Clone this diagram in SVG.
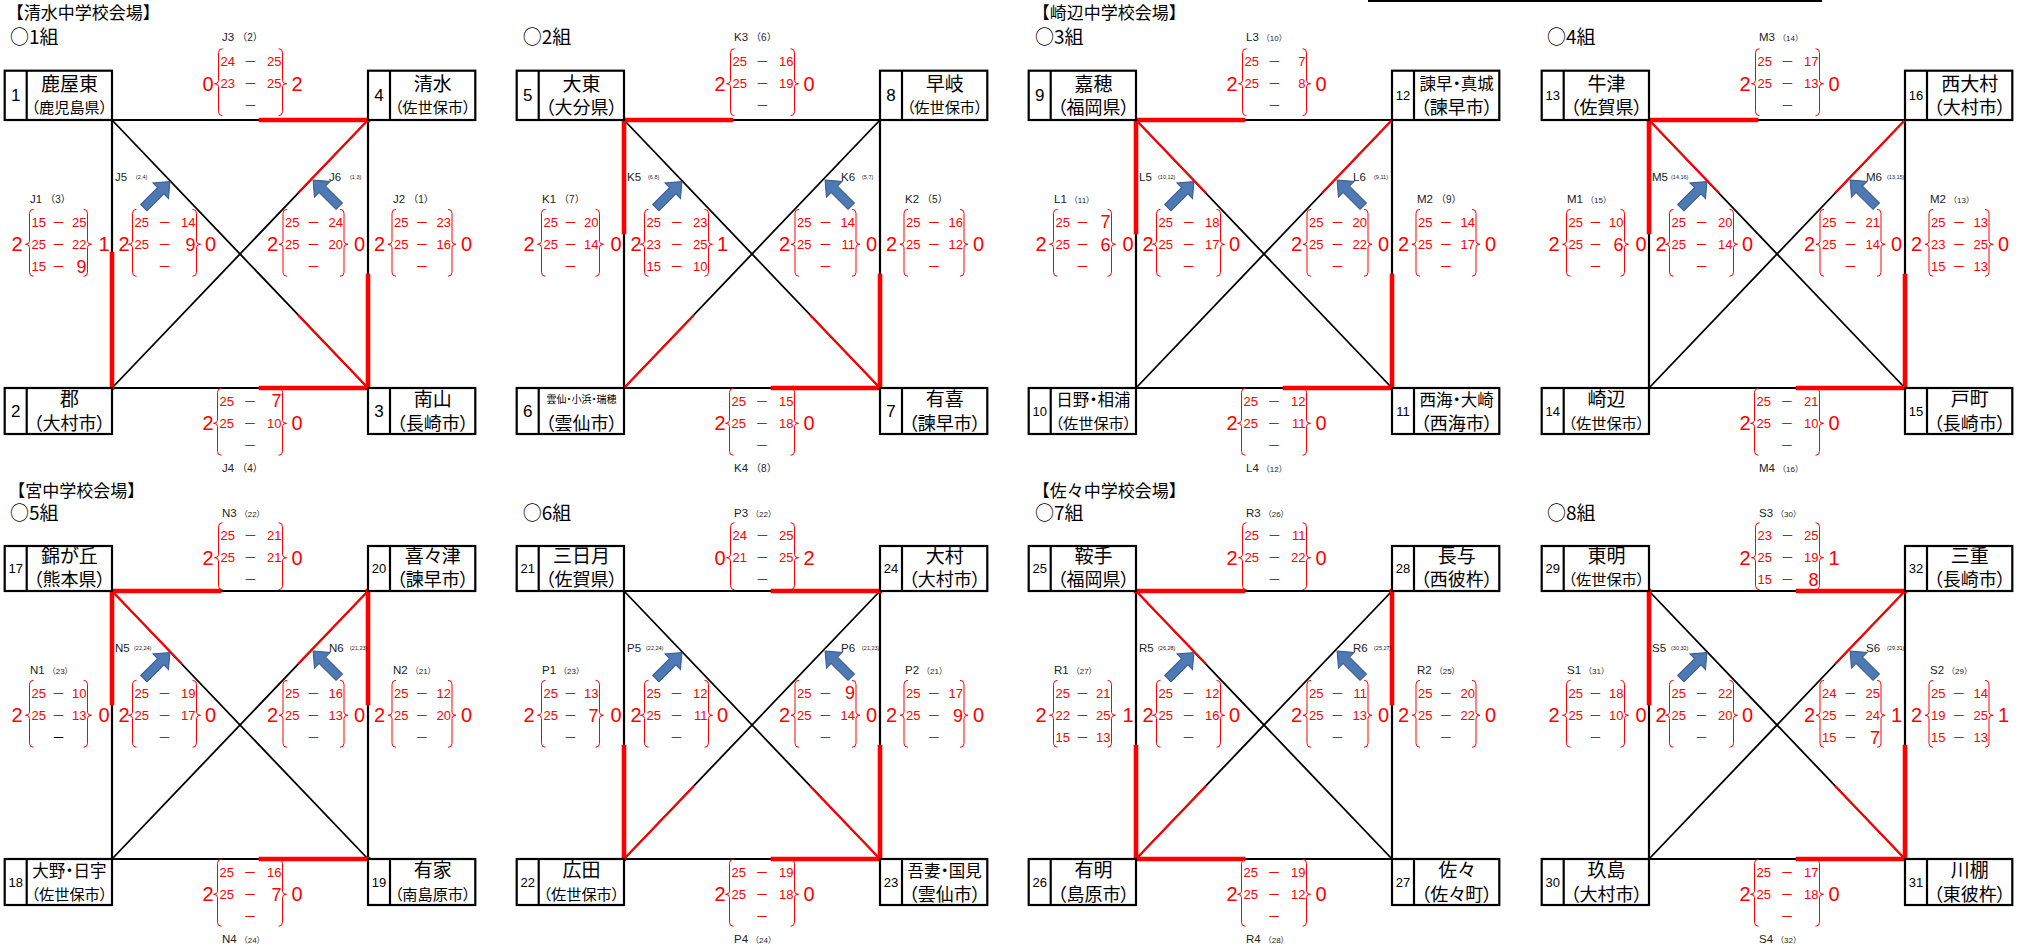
<svg xmlns="http://www.w3.org/2000/svg" width="2021" height="949" viewBox="0 0 2021 949">
<defs>
<style>
text{font-family:"Liberation Sans","Noto Sans CJK JP",sans-serif}
.k{fill:none;stroke:#000;stroke-width:2.2}
.kd{fill:none;stroke:#000;stroke-width:1.8}
.rt{fill:none;stroke:#f00;stroke-width:4.6;stroke-linecap:square}
.rd{fill:none;stroke:#f00;stroke-width:2.2}
.bx{fill:#fff;stroke:#000;stroke-width:2.2}
.br{fill:none;stroke:#f00;stroke-width:1}
.ar{fill:#4d79b4;stroke:#38598a;stroke-width:1}
.s{font-size:13px;fill:#f00}
.b{font-size:18px}
.w{font-size:20px;fill:#f00}
.e{text-anchor:end}
.q{font-family:"Noto Sans CJK JP",sans-serif;text-anchor:middle}
.lb{font-size:11.5px;fill:#222}
.lp{font-size:10px}
.lq{font-size:8px}
.tn{font-size:5.5px;fill:#222}
.jp{font-family:"Noto Sans CJK JP",sans-serif;font-feature-settings:"palt";text-anchor:middle;fill:#000}
.hd{font-family:"Noto Sans CJK JP",sans-serif;font-size:17px}
.gl{font-family:"Noto Sans CJK JP",sans-serif;font-size:19px}
.n1{font-size:17px;text-anchor:middle}
.n2{font-size:13px;text-anchor:middle}
.f19{font-size:19px}.f17{font-size:16.5px}.f10{font-size:10px}.p18{font-size:18px}.p15{font-size:15.2px}
</style>
<path id="bL" d="M4,-35Q0,-35 0,-31V-3Q0,0 -4,0Q0,0 0,3V28Q0,32 4,32"/>
<path id="bR" d="M-4,-35Q0,-35 0,-31V-3Q0,0 4,0Q0,0 0,3V28Q0,32 -4,32"/>
<path id="ar" d="M0,-19L11,-6H4.5V18H-4.5V-6H-11Z"/>
<g id="sq"><path class="k" d="M0,0H256V268H0Z"/><path class="kd" d="M0,0L256,268M256,0L0,268"/></g>
</defs>
<rect width="2021" height="949" fill="#fff"/>
<rect x="1368" y="0" width="454" height="2" fill="#000"/>

<g id="headers">
<text class="hd" x="6.7" y="18.5">【清水中学校会場】</text>
<text class="hd" x="1032.7" y="18.5">【崎辺中学校会場】</text>
<text class="hd" x="8.3" y="496.5">【宮中学校会場】</text>
<text class="hd" x="1032.7" y="496.5">【佐々中学校会場】</text>
<text class="gl" x="10" y="44">○1組</text>
<text class="gl" x="522.7" y="44">○2組</text>
<text class="gl" x="1035" y="44">○3組</text>
<text class="gl" x="1547" y="44">○4組</text>
<text class="gl" x="10" y="520">○5組</text>
<text class="gl" x="522.7" y="520">○6組</text>
<text class="gl" x="1035" y="520">○7組</text>
<text class="gl" x="1547" y="520">○8組</text>
</g>

<g id="connectors">
<g transform="translate(112,120)"><use href="#sq"/><path class="rt" d="M149,0H256M149,268H256M0,134V268M256,156V268"/><path class="rd" d="M186,195L256,268M256,0L186,73"/></g>
<g transform="translate(624,120)"><use href="#sq"/><path class="rt" d="M0,0H107M149,268H256M0,0V112M256,156V268"/><path class="rd" d="M186,195L256,268M0,268L70,195"/></g>
<g transform="translate(1136,120)"><use href="#sq"/><path class="rt" d="M0,0H107M149,268H256M0,0V112M256,156V268"/><path class="rd" d="M0,0L70,73M256,0L186,73"/></g>
<g transform="translate(1649,120)"><use href="#sq"/><path class="rt" d="M0,0H107M149,268H256M0,0V112M256,156V268"/><path class="rd" d="M0,0L70,73M256,0L186,73"/></g>
<g transform="translate(112,591)"><use href="#sq"/><path class="rt" d="M0,0H107M149,268H256M0,0V112M256,0V112"/><path class="rd" d="M0,0L70,73M256,0L186,73"/></g>
<g transform="translate(624,591)"><use href="#sq"/><path class="rt" d="M149,0H256M149,268H256M0,156V268M256,156V268"/><path class="rd" d="M186,195L256,268M0,268L70,195"/></g>
<g transform="translate(1136,591)"><use href="#sq"/><path class="rt" d="M0,0H107M0,268H107M0,156V268M256,0V112"/><path class="rd" d="M0,0L70,73M0,268L70,195"/></g>
<g transform="translate(1649,591)"><use href="#sq"/><path class="rt" d="M149,0H256M149,268H256M0,0V112M256,156V268"/><path class="rd" d="M186,195L256,268M256,0L186,73"/></g>
</g>

<!-- Teams row 1 -->
<g id="team1" transform="translate(4.7,70.7)"><rect class="bx" width="107.3" height="49.3"/><path class="k" d="M22,0V49.3"/><text class="n1" x="11" y="30.7">1</text><text class="jp f19" x="64.7" y="19.8">鹿屋東</text><text class="jp p15" x="64.7" y="41.9">（鹿児島県）</text></g>
<g id="team4" transform="translate(368,70.7)"><rect class="bx" width="107.3" height="49.3"/><path class="k" d="M22,0V49.3"/><text class="n1" x="11" y="30.7">4</text><text class="jp f19" x="64.7" y="19.8">清水</text><text class="jp p15" x="64.7" y="41.9">（佐世保市）</text></g>
<g id="team2" transform="translate(4.7,388)"><rect class="bx" width="107.3" height="46"/><path class="k" d="M22,0V46"/><text class="n1" x="11" y="29.1">2</text><text class="jp f19" x="64.7" y="18.4">郡</text><text class="jp p18" x="64.7" y="41.6">（大村市）</text></g>
<g id="team3" transform="translate(368,388)"><rect class="bx" width="107.3" height="46"/><path class="k" d="M22,0V46"/><text class="n1" x="11" y="29.1">3</text><text class="jp f19" x="64.7" y="18.4">南山</text><text class="jp p18" x="64.7" y="41.6">（長崎市）</text></g>

<g id="team5" transform="translate(516.7,70.7)"><rect class="bx" width="107.3" height="49.3"/><path class="k" d="M22,0V49.3"/><text class="n1" x="11" y="30.7">5</text><text class="jp f19" x="64.7" y="19.8">大東</text><text class="jp p18" x="64.7" y="43">（大分県）</text></g>
<g id="team8" transform="translate(880,70.7)"><rect class="bx" width="107.3" height="49.3"/><path class="k" d="M22,0V49.3"/><text class="n1" x="11" y="30.7">8</text><text class="jp f19" x="64.7" y="19.8">早岐</text><text class="jp p15" x="64.7" y="41.9">（佐世保市）</text></g>
<g id="team6" transform="translate(516.7,388)"><rect class="bx" width="107.3" height="46"/><path class="k" d="M22,0V46"/><text class="n1" x="11" y="29.1">6</text><text class="jp f10" x="64.7" y="14.8">雲仙・小浜・瑞穂</text><text class="jp p18" x="64.7" y="41.6">（雲仙市）</text></g>
<g id="team7" transform="translate(880,388)"><rect class="bx" width="107.3" height="46"/><path class="k" d="M22,0V46"/><text class="n1" x="11" y="29.1">7</text><text class="jp f19" x="64.7" y="18.4">有喜</text><text class="jp p18" x="64.7" y="41.6">（諫早市）</text></g>

<g id="team9" transform="translate(1028.7,70.7)"><rect class="bx" width="107.3" height="49.3"/><path class="k" d="M22,0V49.3"/><text class="n1" x="11" y="30.7">9</text><text class="jp f19" x="64.7" y="19.8">嘉穂</text><text class="jp p18" x="64.7" y="43">（福岡県）</text></g>
<g id="team12" transform="translate(1392,70.7)"><rect class="bx" width="107.3" height="49.3"/><path class="k" d="M22,0V49.3"/><text class="n2" x="11" y="29.3">12</text><text class="jp f17" x="64.7" y="19.2">諫早・真城</text><text class="jp p18" x="64.7" y="43">（諫早市）</text></g>
<g id="team10" transform="translate(1028.7,388)"><rect class="bx" width="107.3" height="46"/><path class="k" d="M22,0V46"/><text class="n2" x="11" y="27.7">10</text><text class="jp f17" x="64.7" y="18">日野・相浦</text><text class="jp p15" x="64.7" y="40.6">（佐世保市）</text></g>
<g id="team11" transform="translate(1392,388)"><rect class="bx" width="107.3" height="46"/><path class="k" d="M22,0V46"/><text class="n2" x="11" y="27.7">11</text><text class="jp f17" x="64.7" y="18">西海・大崎</text><text class="jp p18" x="64.7" y="41.6">（西海市）</text></g>

<g id="team13" transform="translate(1541.7,70.7)"><rect class="bx" width="107.3" height="49.3"/><path class="k" d="M22,0V49.3"/><text class="n2" x="11" y="29.3">13</text><text class="jp f19" x="64.7" y="19.8">牛津</text><text class="jp p18" x="64.7" y="43">（佐賀県）</text></g>
<g id="team16" transform="translate(1905,70.7)"><rect class="bx" width="107.3" height="49.3"/><path class="k" d="M22,0V49.3"/><text class="n2" x="11" y="29.3">16</text><text class="jp f19" x="64.7" y="19.8">西大村</text><text class="jp p18" x="64.7" y="43">（大村市）</text></g>
<g id="team14" transform="translate(1541.7,388)"><rect class="bx" width="107.3" height="46"/><path class="k" d="M22,0V46"/><text class="n2" x="11" y="27.7">14</text><text class="jp f19" x="64.7" y="18.4">崎辺</text><text class="jp p15" x="64.7" y="40.6">（佐世保市）</text></g>
<g id="team15" transform="translate(1905,388)"><rect class="bx" width="107.3" height="46"/><path class="k" d="M22,0V46"/><text class="n2" x="11" y="27.7">15</text><text class="jp f19" x="64.7" y="18.4">戸町</text><text class="jp p18" x="64.7" y="41.6">（長崎市）</text></g>

<!-- Teams row 2 -->
<g id="team17" transform="translate(4.7,546)"><rect class="bx" width="107.3" height="45"/><path class="k" d="M22,0V45"/><text class="n2" x="11" y="27.2">17</text><text class="jp f19" x="64.7" y="17.3">錦が丘</text><text class="jp p18" x="64.7" y="40.2">（熊本県）</text></g>
<g id="team20" transform="translate(368,546)"><rect class="bx" width="107.3" height="45"/><path class="k" d="M22,0V45"/><text class="n2" x="11" y="27.2">20</text><text class="jp f19" x="64.7" y="17.3">喜々津</text><text class="jp p18" x="64.7" y="40.2">（諫早市）</text></g>
<g id="team18" transform="translate(4.7,859)"><rect class="bx" width="107.3" height="46"/><path class="k" d="M22,0V46"/><text class="n2" x="11" y="27.7">18</text><text class="jp f17" x="64.7" y="18">大野・日宇</text><text class="jp p15" x="64.7" y="40.6">（佐世保市）</text></g>
<g id="team19" transform="translate(368,859)"><rect class="bx" width="107.3" height="46"/><path class="k" d="M22,0V46"/><text class="n2" x="11" y="27.7">19</text><text class="jp f19" x="64.7" y="18.4">有家</text><text class="jp p15" x="64.7" y="40.6">（南島原市）</text></g>

<g id="team21" transform="translate(516.7,546)"><rect class="bx" width="107.3" height="45"/><path class="k" d="M22,0V45"/><text class="n2" x="11" y="27.2">21</text><text class="jp f19" x="64.7" y="17.3">三日月</text><text class="jp p18" x="64.7" y="40.2">（佐賀県）</text></g>
<g id="team24" transform="translate(880,546)"><rect class="bx" width="107.3" height="45"/><path class="k" d="M22,0V45"/><text class="n2" x="11" y="27.2">24</text><text class="jp f19" x="64.7" y="17.3">大村</text><text class="jp p18" x="64.7" y="40.2">（大村市）</text></g>
<g id="team22" transform="translate(516.7,859)"><rect class="bx" width="107.3" height="46"/><path class="k" d="M22,0V46"/><text class="n2" x="11" y="27.7">22</text><text class="jp f19" x="64.7" y="18.4">広田</text><text class="jp p15" x="64.7" y="40.6">（佐世保市）</text></g>
<g id="team23" transform="translate(880,859)"><rect class="bx" width="107.3" height="46"/><path class="k" d="M22,0V46"/><text class="n2" x="11" y="27.7">23</text><text class="jp f17" x="64.7" y="18">吾妻・国見</text><text class="jp p18" x="64.7" y="41.6">（雲仙市）</text></g>

<g id="team25" transform="translate(1028.7,546)"><rect class="bx" width="107.3" height="45"/><path class="k" d="M22,0V45"/><text class="n2" x="11" y="27.2">25</text><text class="jp f19" x="64.7" y="17.3">鞍手</text><text class="jp p18" x="64.7" y="40.2">（福岡県）</text></g>
<g id="team28" transform="translate(1392,546)"><rect class="bx" width="107.3" height="45"/><path class="k" d="M22,0V45"/><text class="n2" x="11" y="27.2">28</text><text class="jp f19" x="64.7" y="17.3">長与</text><text class="jp p18" x="64.7" y="40.2">（西彼杵）</text></g>
<g id="team26" transform="translate(1028.7,859)"><rect class="bx" width="107.3" height="46"/><path class="k" d="M22,0V46"/><text class="n2" x="11" y="27.7">26</text><text class="jp f19" x="64.7" y="18.4">有明</text><text class="jp p18" x="64.7" y="41.6">（島原市）</text></g>
<g id="team27" transform="translate(1392,859)"><rect class="bx" width="107.3" height="46"/><path class="k" d="M22,0V46"/><text class="n2" x="11" y="27.7">27</text><text class="jp f19" x="64.7" y="18.4">佐々</text><text class="jp p18" x="64.7" y="41.6">（佐々町）</text></g>

<g id="team29" transform="translate(1541.7,546)"><rect class="bx" width="107.3" height="45"/><path class="k" d="M22,0V45"/><text class="n2" x="11" y="27.2">29</text><text class="jp f19" x="64.7" y="17.3">東明</text><text class="jp p15" x="64.7" y="39.4">（佐世保市）</text></g>
<g id="team32" transform="translate(1905,546)"><rect class="bx" width="107.3" height="45"/><path class="k" d="M22,0V45"/><text class="n2" x="11" y="27.2">32</text><text class="jp f19" x="64.7" y="17.3">三重</text><text class="jp p18" x="64.7" y="40.2">（長崎市）</text></g>
<g id="team30" transform="translate(1541.7,859)"><rect class="bx" width="107.3" height="46"/><path class="k" d="M22,0V46"/><text class="n2" x="11" y="27.7">30</text><text class="jp f19" x="64.7" y="18.4">玖島</text><text class="jp p18" x="64.7" y="41.6">（大村市）</text></g>
<g id="team31" transform="translate(1905,859)"><rect class="bx" width="107.3" height="46"/><path class="k" d="M22,0V46"/><text class="n2" x="11" y="27.7">31</text><text class="jp f19" x="64.7" y="18.4">川棚</text><text class="jp p18" x="64.7" y="41.6">（東彼杵）</text></g>

<!-- Scores group 1 -->
<g id="scores1" transform="translate(112,120)">
<text class="lb" x="110" y="-79">J3<tspan class="lp" dx="3">（2）</tspan></text>
<g class="s" transform="translate(106.5,-36.3)"><use href="#bL" class="br"/><use href="#bR" x="64" class="br"/><text class="w e" x="-5" y="7">0</text><text class="w" x="73" y="7">2</text><text x="2" y="-17.8">24</text><text class="q" x="32" y="-17.8">－</text><text class="e" x="63" y="-17.8">25</text><text x="2" y="4.7">23</text><text class="q" x="32" y="4.7">－</text><text class="e" x="63" y="4.7">25</text><text class="q" x="32" y="26.7">－</text></g>
<text class="lb" x="-82" y="83">J1<tspan class="lp" dx="3">（3）</tspan></text>
<g class="s" transform="translate(-82.5,124.3)"><use href="#bL" class="br"/><use href="#bR" x="58" class="br"/><text class="w e" x="-7" y="7">2</text><text class="w" x="69" y="7">1</text><text x="2" y="-17.8">15</text><text class="q" x="29" y="-17.8">－</text><text class="e" x="57" y="-17.8">25</text><text x="2" y="4.7">25</text><text class="q" x="29" y="4.7">－</text><text class="e" x="57" y="4.7">22</text><text x="2" y="26.7">15</text><text class="q" x="29" y="26.7">－</text><text class="e b" x="57" y="28.5">9</text></g>
<text class="lb" x="3" y="61">J5</text><text class="tn" x="24" y="59">(2,4)</text>
<use href="#ar" class="ar" transform="translate(44.5,75) rotate(45)"/>
<g class="s" transform="translate(20.5,124.3)"><use href="#bL" class="br"/><use href="#bR" x="64" class="br"/><text class="w e" x="-3" y="7">2</text><text class="w" x="72.5" y="7">0</text><text x="2" y="-17.8">25</text><text class="q" x="32" y="-17.8">－</text><text class="e" x="63" y="-17.8">14</text><text x="2" y="4.7">25</text><text class="q" x="32" y="4.7">－</text><text class="e b" x="63" y="6.5">9</text><text class="q" x="32" y="26.7">－</text></g>
<text class="lb" x="217" y="61">J6</text><text class="tn" x="238" y="59">(1,3)</text>
<use href="#ar" class="ar" transform="translate(214.5,73.5) rotate(-45)"/>
<g class="s" transform="translate(171,124.3)"><use href="#bL" class="br"/><use href="#bR" x="61" class="br"/><text class="w e" x="-5" y="7">2</text><text class="w" x="71" y="7">0</text><text x="2" y="-17.8">25</text><text class="q" x="30.5" y="-17.8">－</text><text class="e" x="60" y="-17.8">24</text><text x="2" y="4.7">25</text><text class="q" x="30.5" y="4.7">－</text><text class="e" x="60" y="4.7">20</text><text class="q" x="30.5" y="26.7">－</text></g>
<text class="lb" x="281" y="83">J2<tspan class="lp" dx="3">（1）</tspan></text>
<g class="s" transform="translate(280,124.3)"><use href="#bL" class="br"/><use href="#bR" x="60" class="br"/><text class="w e" x="-7" y="7">2</text><text class="w" x="69" y="7">0</text><text x="2" y="-17.8">25</text><text class="q" x="30" y="-17.8">－</text><text class="e" x="59" y="-17.8">23</text><text x="2" y="4.7">25</text><text class="q" x="30" y="4.7">－</text><text class="e" x="59" y="4.7">16</text><text class="q" x="30" y="26.7">－</text></g>
<text class="lb" x="110" y="352">J4<tspan class="lp" dx="3">（4）</tspan></text>
<g class="s" transform="translate(105.5,303.3)"><use href="#bL" class="br"/><use href="#bR" x="65" class="br"/><text class="w e" x="-4" y="7">2</text><text class="w" x="74" y="7">0</text><text x="2" y="-17.8">25</text><text class="q" x="32.5" y="-17.8">－</text><text class="e b" x="64" y="-16">7</text><text x="2" y="4.7">25</text><text class="q" x="32.5" y="4.7">－</text><text class="e" x="64" y="4.7">10</text><text class="q" x="32.5" y="26.7">－</text></g>
</g>

<!-- Scores group 2 -->
<g id="scores2" transform="translate(624,120)">
<text class="lb" x="110" y="-79">K3<tspan class="lp" dx="3">（6）</tspan></text>
<g class="s" transform="translate(106.5,-36.3)"><use href="#bL" class="br"/><use href="#bR" x="64" class="br"/><text class="w e" x="-5" y="7">2</text><text class="w" x="73" y="7">0</text><text x="2" y="-17.8">25</text><text class="q" x="32" y="-17.8">－</text><text class="e" x="63" y="-17.8">16</text><text x="2" y="4.7">25</text><text class="q" x="32" y="4.7">－</text><text class="e" x="63" y="4.7">19</text><text class="q" x="32" y="26.7">－</text></g>
<text class="lb" x="-82" y="83">K1<tspan class="lp" dx="3">（7）</tspan></text>
<g class="s" transform="translate(-82.5,124.3)"><use href="#bL" class="br"/><use href="#bR" x="58" class="br"/><text class="w e" x="-7" y="7">2</text><text class="w" x="69" y="7">0</text><text x="2" y="-17.8">25</text><text class="q" x="29" y="-17.8">－</text><text class="e" x="57" y="-17.8">20</text><text x="2" y="4.7">25</text><text class="q" x="29" y="4.7">－</text><text class="e" x="57" y="4.7">14</text><text class="q" x="29" y="26.7">－</text></g>
<text class="lb" x="3" y="61">K5</text><text class="tn" x="24" y="59">(6,8)</text>
<use href="#ar" class="ar" transform="translate(44.5,75) rotate(45)"/>
<g class="s" transform="translate(20.5,124.3)"><use href="#bL" class="br"/><use href="#bR" x="64" class="br"/><text class="w e" x="-3" y="7">2</text><text class="w" x="72.5" y="7">1</text><text x="2" y="-17.8">25</text><text class="q" x="32" y="-17.8">－</text><text class="e" x="63" y="-17.8">23</text><text x="2" y="4.7">23</text><text class="q" x="32" y="4.7">－</text><text class="e" x="63" y="4.7">25</text><text x="2" y="26.7">15</text><text class="q" x="32" y="26.7">－</text><text class="e" x="63" y="26.7">10</text></g>
<text class="lb" x="217" y="61">K6</text><text class="tn" x="238" y="59">(5,7)</text>
<use href="#ar" class="ar" transform="translate(214.5,73.5) rotate(-45)"/>
<g class="s" transform="translate(171,124.3)"><use href="#bL" class="br"/><use href="#bR" x="61" class="br"/><text class="w e" x="-5" y="7">2</text><text class="w" x="71" y="7">0</text><text x="2" y="-17.8">25</text><text class="q" x="30.5" y="-17.8">－</text><text class="e" x="60" y="-17.8">14</text><text x="2" y="4.7">25</text><text class="q" x="30.5" y="4.7">－</text><text class="e" x="60" y="4.7">11</text><text class="q" x="30.5" y="26.7">－</text></g>
<text class="lb" x="281" y="83">K2<tspan class="lp" dx="3">（5）</tspan></text>
<g class="s" transform="translate(280,124.3)"><use href="#bL" class="br"/><use href="#bR" x="60" class="br"/><text class="w e" x="-7" y="7">2</text><text class="w" x="69" y="7">0</text><text x="2" y="-17.8">25</text><text class="q" x="30" y="-17.8">－</text><text class="e" x="59" y="-17.8">16</text><text x="2" y="4.7">25</text><text class="q" x="30" y="4.7">－</text><text class="e" x="59" y="4.7">12</text><text class="q" x="30" y="26.7">－</text></g>
<text class="lb" x="110" y="352">K4<tspan class="lp" dx="3">（8）</tspan></text>
<g class="s" transform="translate(105.5,303.3)"><use href="#bL" class="br"/><use href="#bR" x="65" class="br"/><text class="w e" x="-4" y="7">2</text><text class="w" x="74" y="7">0</text><text x="2" y="-17.8">25</text><text class="q" x="32.5" y="-17.8">－</text><text class="e" x="64" y="-17.8">15</text><text x="2" y="4.7">25</text><text class="q" x="32.5" y="4.7">－</text><text class="e" x="64" y="4.7">18</text><text class="q" x="32.5" y="26.7">－</text></g>
</g>

<!-- Scores group 3 -->
<g id="scores3" transform="translate(1136,120)">
<text class="lb" x="110" y="-79">L3<tspan class="lq" dx="3">（10）</tspan></text>
<g class="s" transform="translate(106.5,-36.3)"><use href="#bL" class="br"/><use href="#bR" x="64" class="br"/><text class="w e" x="-5" y="7">2</text><text class="w" x="73" y="7">0</text><text x="2" y="-17.8">25</text><text class="q" x="32" y="-17.8">－</text><text class="e" x="63" y="-17.8">7</text><text x="2" y="4.7">25</text><text class="q" x="32" y="4.7">－</text><text class="e" x="63" y="4.7">8</text><text class="q" x="32" y="26.7">－</text></g>
<text class="lb" x="-82" y="83">L1<tspan class="lq" dx="3">（11）</tspan></text>
<g class="s" transform="translate(-82.5,124.3)"><use href="#bL" class="br"/><use href="#bR" x="58" class="br"/><text class="w e" x="-7" y="7">2</text><text class="w" x="69" y="7">0</text><text x="2" y="-17.8">25</text><text class="q" x="29" y="-17.8">－</text><text class="e b" x="57" y="-16">7</text><text x="2" y="4.7">25</text><text class="q" x="29" y="4.7">－</text><text class="e b" x="57" y="6.5">6</text><text class="q" x="29" y="26.7">－</text></g>
<text class="lb" x="3" y="61">L5</text><text class="tn" x="22" y="59">(10,12)</text>
<use href="#ar" class="ar" transform="translate(44.5,75) rotate(45)"/>
<g class="s" transform="translate(20.5,124.3)"><use href="#bL" class="br"/><use href="#bR" x="64" class="br"/><text class="w e" x="-3" y="7">2</text><text class="w" x="72.5" y="7">0</text><text x="2" y="-17.8">25</text><text class="q" x="32" y="-17.8">－</text><text class="e" x="63" y="-17.8">18</text><text x="2" y="4.7">25</text><text class="q" x="32" y="4.7">－</text><text class="e" x="63" y="4.7">17</text><text class="q" x="32" y="26.7">－</text></g>
<text class="lb" x="217" y="61">L6</text><text class="tn" x="238" y="59">(9,11)</text>
<use href="#ar" class="ar" transform="translate(214.5,73.5) rotate(-45)"/>
<g class="s" transform="translate(171,124.3)"><use href="#bL" class="br"/><use href="#bR" x="61" class="br"/><text class="w e" x="-5" y="7">2</text><text class="w" x="71" y="7">0</text><text x="2" y="-17.8">25</text><text class="q" x="30.5" y="-17.8">－</text><text class="e" x="60" y="-17.8">20</text><text x="2" y="4.7">25</text><text class="q" x="30.5" y="4.7">－</text><text class="e" x="60" y="4.7">22</text><text class="q" x="30.5" y="26.7">－</text></g>
<text class="lb" x="281" y="83">M2<tspan class="lp" dx="3">（9）</tspan></text>
<g class="s" transform="translate(280,124.3)"><use href="#bL" class="br"/><use href="#bR" x="60" class="br"/><text class="w e" x="-7" y="7">2</text><text class="w" x="69" y="7">0</text><text x="2" y="-17.8">25</text><text class="q" x="30" y="-17.8">－</text><text class="e" x="59" y="-17.8">14</text><text x="2" y="4.7">25</text><text class="q" x="30" y="4.7">－</text><text class="e" x="59" y="4.7">17</text><text class="q" x="30" y="26.7">－</text></g>
<text class="lb" x="110" y="352">L4<tspan class="lq" dx="3">（12）</tspan></text>
<g class="s" transform="translate(105.5,303.3)"><use href="#bL" class="br"/><use href="#bR" x="65" class="br"/><text class="w e" x="-4" y="7">2</text><text class="w" x="74" y="7">0</text><text x="2" y="-17.8">25</text><text class="q" x="32.5" y="-17.8">－</text><text class="e" x="64" y="-17.8">12</text><text x="2" y="4.7">25</text><text class="q" x="32.5" y="4.7">－</text><text class="e" x="64" y="4.7">11</text><text class="q" x="32.5" y="26.7">－</text></g>
</g>

<!-- Scores group 4 -->
<g id="scores4" transform="translate(1649,120)">
<text class="lb" x="110" y="-79">M3<tspan class="lq" dx="3">（14）</tspan></text>
<g class="s" transform="translate(106.5,-36.3)"><use href="#bL" class="br"/><use href="#bR" x="64" class="br"/><text class="w e" x="-5" y="7">2</text><text class="w" x="73" y="7">0</text><text x="2" y="-17.8">25</text><text class="q" x="32" y="-17.8">－</text><text class="e" x="63" y="-17.8">17</text><text x="2" y="4.7">25</text><text class="q" x="32" y="4.7">－</text><text class="e" x="63" y="4.7">13</text><text class="q" x="32" y="26.7">－</text></g>
<text class="lb" x="-82" y="83">M1<tspan class="lq" dx="3">（15）</tspan></text>
<g class="s" transform="translate(-82.5,124.3)"><use href="#bL" class="br"/><use href="#bR" x="58" class="br"/><text class="w e" x="-7" y="7">2</text><text class="w" x="69" y="7">0</text><text x="2" y="-17.8">25</text><text class="q" x="29" y="-17.8">－</text><text class="e" x="57" y="-17.8">10</text><text x="2" y="4.7">25</text><text class="q" x="29" y="4.7">－</text><text class="e b" x="57" y="6.5">6</text><text class="q" x="29" y="26.7">－</text></g>
<text class="lb" x="3" y="61">M5</text><text class="tn" x="22" y="59">(14,16)</text>
<use href="#ar" class="ar" transform="translate(44.5,75) rotate(45)"/>
<g class="s" transform="translate(20.5,124.3)"><use href="#bL" class="br"/><use href="#bR" x="64" class="br"/><text class="w e" x="-3" y="7">2</text><text class="w" x="72.5" y="7">0</text><text x="2" y="-17.8">25</text><text class="q" x="32" y="-17.8">－</text><text class="e" x="63" y="-17.8">20</text><text x="2" y="4.7">25</text><text class="q" x="32" y="4.7">－</text><text class="e" x="63" y="4.7">14</text><text class="q" x="32" y="26.7">－</text></g>
<text class="lb" x="217" y="61">M6</text><text class="tn" x="238" y="59">(13,15)</text>
<use href="#ar" class="ar" transform="translate(214.5,73.5) rotate(-45)"/>
<g class="s" transform="translate(171,124.3)"><use href="#bL" class="br"/><use href="#bR" x="61" class="br"/><text class="w e" x="-5" y="7">2</text><text class="w" x="71" y="7">0</text><text x="2" y="-17.8">25</text><text class="q" x="30.5" y="-17.8">－</text><text class="e" x="60" y="-17.8">21</text><text x="2" y="4.7">25</text><text class="q" x="30.5" y="4.7">－</text><text class="e" x="60" y="4.7">14</text><text class="q" x="30.5" y="26.7">－</text></g>
<text class="lb" x="281" y="83">M2<tspan class="lq" dx="3">（13）</tspan></text>
<g class="s" transform="translate(280,124.3)"><use href="#bL" class="br"/><use href="#bR" x="60" class="br"/><text class="w e" x="-7" y="7">2</text><text class="w" x="69" y="7">0</text><text x="2" y="-17.8">25</text><text class="q" x="30" y="-17.8">－</text><text class="e" x="59" y="-17.8">13</text><text x="2" y="4.7">23</text><text class="q" x="30" y="4.7">－</text><text class="e" x="59" y="4.7">25</text><text x="2" y="26.7">15</text><text class="q" x="30" y="26.7">－</text><text class="e" x="59" y="26.7">13</text></g>
<text class="lb" x="110" y="352">M4<tspan class="lq" dx="3">（16）</tspan></text>
<g class="s" transform="translate(105.5,303.3)"><use href="#bL" class="br"/><use href="#bR" x="65" class="br"/><text class="w e" x="-4" y="7">2</text><text class="w" x="74" y="7">0</text><text x="2" y="-17.8">25</text><text class="q" x="32.5" y="-17.8">－</text><text class="e" x="64" y="-17.8">21</text><text x="2" y="4.7">25</text><text class="q" x="32.5" y="4.7">－</text><text class="e" x="64" y="4.7">10</text><text class="q" x="32.5" y="26.7">－</text></g>
</g>

<!-- Scores group 5 -->
<g id="scores5" transform="translate(112,591)">
<text class="lb" x="110" y="-74">N3<tspan class="lq" dx="3">（22）</tspan></text>
<g class="s" transform="translate(106.5,-33.3)"><use href="#bL" class="br"/><use href="#bR" x="64" class="br"/><text class="w e" x="-5" y="7">2</text><text class="w" x="73" y="7">0</text><text x="2" y="-17.8">25</text><text class="q" x="32" y="-17.8">－</text><text class="e" x="63" y="-17.8">21</text><text x="2" y="4.7">25</text><text class="q" x="32" y="4.7">－</text><text class="e" x="63" y="4.7">21</text><text class="q" x="32" y="26.7">－</text></g>
<text class="lb" x="-82" y="83">N1<tspan class="lq" dx="3">（23）</tspan></text>
<g class="s" transform="translate(-82.5,124.3)"><use href="#bL" class="br"/><use href="#bR" x="58" class="br"/><text class="w e" x="-7" y="7">2</text><text class="w" x="69" y="7">0</text><text x="2" y="-17.8">25</text><text class="q" x="29" y="-17.8">－</text><text class="e" x="57" y="-17.8">10</text><text x="2" y="4.7">25</text><text class="q" x="29" y="4.7">－</text><text class="e" x="57" y="4.7">13</text><text class="q" x="29" y="26.7" fill="#000">－</text></g>
<text class="lb" x="3" y="61">N5</text><text class="tn" x="22" y="59">(22,24)</text>
<use href="#ar" class="ar" transform="translate(44.5,75) rotate(45)"/>
<g class="s" transform="translate(20.5,124.3)"><use href="#bL" class="br"/><use href="#bR" x="64" class="br"/><text class="w e" x="-3" y="7">2</text><text class="w" x="72.5" y="7">0</text><text x="2" y="-17.8">25</text><text class="q" x="32" y="-17.8">－</text><text class="e" x="63" y="-17.8">19</text><text x="2" y="4.7">25</text><text class="q" x="32" y="4.7">－</text><text class="e" x="63" y="4.7">17</text><text class="q" x="32" y="26.7">－</text></g>
<text class="lb" x="217" y="61">N6</text><text class="tn" x="238" y="59">(21,23)</text>
<use href="#ar" class="ar" transform="translate(214.5,73.5) rotate(-45)"/>
<g class="s" transform="translate(171,124.3)"><use href="#bL" class="br"/><use href="#bR" x="61" class="br"/><text class="w e" x="-5" y="7">2</text><text class="w" x="71" y="7">0</text><text x="2" y="-17.8">25</text><text class="q" x="30.5" y="-17.8">－</text><text class="e" x="60" y="-17.8">16</text><text x="2" y="4.7">25</text><text class="q" x="30.5" y="4.7">－</text><text class="e" x="60" y="4.7">13</text><text class="q" x="30.5" y="26.7">－</text></g>
<text class="lb" x="281" y="83">N2<tspan class="lq" dx="3">（21）</tspan></text>
<g class="s" transform="translate(280,124.3)"><use href="#bL" class="br"/><use href="#bR" x="60" class="br"/><text class="w e" x="-7" y="7">2</text><text class="w" x="69" y="7">0</text><text x="2" y="-17.8">25</text><text class="q" x="30" y="-17.8">－</text><text class="e" x="59" y="-17.8">12</text><text x="2" y="4.7">25</text><text class="q" x="30" y="4.7">－</text><text class="e" x="59" y="4.7">20</text><text class="q" x="30" y="26.7">－</text></g>
<text class="lb" x="110" y="352">N4<tspan class="lq" dx="3">（24）</tspan></text>
<g class="s" transform="translate(105.5,303.3)"><use href="#bL" class="br"/><use href="#bR" x="65" class="br"/><text class="w e" x="-4" y="7">2</text><text class="w" x="74" y="7">0</text><text x="2" y="-17.8">25</text><text class="q" x="32.5" y="-17.8">－</text><text class="e" x="64" y="-17.8">16</text><text x="2" y="4.7">25</text><text class="q" x="32.5" y="4.7">－</text><text class="e b" x="64" y="6.5">7</text><text class="q" x="32.5" y="26.7">－</text></g>
</g>

<!-- Scores group 6 -->
<g id="scores6" transform="translate(624,591)">
<text class="lb" x="110" y="-74">P3<tspan class="lq" dx="3">（22）</tspan></text>
<g class="s" transform="translate(106.5,-33.3)"><use href="#bL" class="br"/><use href="#bR" x="64" class="br"/><text class="w e" x="-5" y="7">0</text><text class="w" x="73" y="7">2</text><text x="2" y="-17.8">24</text><text class="q" x="32" y="-17.8">－</text><text class="e" x="63" y="-17.8">25</text><text x="2" y="4.7">21</text><text class="q" x="32" y="4.7">－</text><text class="e" x="63" y="4.7">25</text><text class="q" x="32" y="26.7">－</text></g>
<text class="lb" x="-82" y="83">P1<tspan class="lq" dx="3">（23）</tspan></text>
<g class="s" transform="translate(-82.5,124.3)"><use href="#bL" class="br"/><use href="#bR" x="58" class="br"/><text class="w e" x="-7" y="7">2</text><text class="w" x="69" y="7">0</text><text x="2" y="-17.8">25</text><text class="q" x="29" y="-17.8">－</text><text class="e" x="57" y="-17.8">13</text><text x="2" y="4.7">25</text><text class="q" x="29" y="4.7">－</text><text class="e b" x="57" y="6.5">7</text><text class="q" x="29" y="26.7">－</text></g>
<text class="lb" x="3" y="61">P5</text><text class="tn" x="22" y="59">(22,24)</text>
<use href="#ar" class="ar" transform="translate(44.5,75) rotate(45)"/>
<g class="s" transform="translate(20.5,124.3)"><use href="#bL" class="br"/><use href="#bR" x="64" class="br"/><text class="w e" x="-3" y="7">2</text><text class="w" x="72.5" y="7">0</text><text x="2" y="-17.8">25</text><text class="q" x="32" y="-17.8">－</text><text class="e" x="63" y="-17.8">12</text><text x="2" y="4.7">25</text><text class="q" x="32" y="4.7">－</text><text class="e" x="63" y="4.7">11</text><text class="q" x="32" y="26.7">－</text></g>
<text class="lb" x="217" y="61">P6</text><text class="tn" x="238" y="59">(21,23)</text>
<use href="#ar" class="ar" transform="translate(214.5,73.5) rotate(-45)"/>
<g class="s" transform="translate(171,124.3)"><use href="#bL" class="br"/><use href="#bR" x="61" class="br"/><text class="w e" x="-5" y="7">2</text><text class="w" x="71" y="7">0</text><text x="2" y="-17.8">25</text><text class="q" x="30.5" y="-17.8">－</text><text class="e b" x="60" y="-16">9</text><text x="2" y="4.7">25</text><text class="q" x="30.5" y="4.7">－</text><text class="e" x="60" y="4.7">14</text><text class="q" x="30.5" y="26.7">－</text></g>
<text class="lb" x="281" y="83">P2<tspan class="lq" dx="3">（21）</tspan></text>
<g class="s" transform="translate(280,124.3)"><use href="#bL" class="br"/><use href="#bR" x="60" class="br"/><text class="w e" x="-7" y="7">2</text><text class="w" x="69" y="7">0</text><text x="2" y="-17.8">25</text><text class="q" x="30" y="-17.8">－</text><text class="e" x="59" y="-17.8">17</text><text x="2" y="4.7">25</text><text class="q" x="30" y="4.7">－</text><text class="e b" x="59" y="6.5">9</text><text class="q" x="30" y="26.7">－</text></g>
<text class="lb" x="110" y="352">P4<tspan class="lq" dx="3">（24）</tspan></text>
<g class="s" transform="translate(105.5,303.3)"><use href="#bL" class="br"/><use href="#bR" x="65" class="br"/><text class="w e" x="-4" y="7">2</text><text class="w" x="74" y="7">0</text><text x="2" y="-17.8">25</text><text class="q" x="32.5" y="-17.8">－</text><text class="e" x="64" y="-17.8">19</text><text x="2" y="4.7">25</text><text class="q" x="32.5" y="4.7">－</text><text class="e" x="64" y="4.7">18</text><text class="q" x="32.5" y="26.7">－</text></g>
</g>

<!-- Scores group 7 -->
<g id="scores7" transform="translate(1136,591)">
<text class="lb" x="110" y="-74">R3<tspan class="lq" dx="3">（26）</tspan></text>
<g class="s" transform="translate(106.5,-33.3)"><use href="#bL" class="br"/><use href="#bR" x="64" class="br"/><text class="w e" x="-5" y="7">2</text><text class="w" x="73" y="7">0</text><text x="2" y="-17.8">25</text><text class="q" x="32" y="-17.8">－</text><text class="e" x="63" y="-17.8">11</text><text x="2" y="4.7">25</text><text class="q" x="32" y="4.7">－</text><text class="e" x="63" y="4.7">22</text><text class="q" x="32" y="26.7">－</text></g>
<text class="lb" x="-82" y="83">R1<tspan class="lq" dx="3">（27）</tspan></text>
<g class="s" transform="translate(-82.5,124.3)"><use href="#bL" class="br"/><use href="#bR" x="58" class="br"/><text class="w e" x="-7" y="7">2</text><text class="w" x="69" y="7">1</text><text x="2" y="-17.8">25</text><text class="q" x="29" y="-17.8">－</text><text class="e" x="57" y="-17.8">21</text><text x="2" y="4.7">22</text><text class="q" x="29" y="4.7">－</text><text class="e" x="57" y="4.7">25</text><text x="2" y="26.7">15</text><text class="q" x="29" y="26.7">－</text><text class="e" x="57" y="26.7">13</text></g>
<text class="lb" x="3" y="61">R5</text><text class="tn" x="22" y="59">(26,28)</text>
<use href="#ar" class="ar" transform="translate(44.5,75) rotate(45)"/>
<g class="s" transform="translate(20.5,124.3)"><use href="#bL" class="br"/><use href="#bR" x="64" class="br"/><text class="w e" x="-3" y="7">2</text><text class="w" x="72.5" y="7">0</text><text x="2" y="-17.8">25</text><text class="q" x="32" y="-17.8">－</text><text class="e" x="63" y="-17.8">12</text><text x="2" y="4.7">25</text><text class="q" x="32" y="4.7">－</text><text class="e" x="63" y="4.7">16</text><text class="q" x="32" y="26.7">－</text></g>
<text class="lb" x="217" y="61">R6</text><text class="tn" x="238" y="59">(25,27)</text>
<use href="#ar" class="ar" transform="translate(214.5,73.5) rotate(-45)"/>
<g class="s" transform="translate(171,124.3)"><use href="#bL" class="br"/><use href="#bR" x="61" class="br"/><text class="w e" x="-5" y="7">2</text><text class="w" x="71" y="7">0</text><text x="2" y="-17.8">25</text><text class="q" x="30.5" y="-17.8">－</text><text class="e" x="60" y="-17.8">11</text><text x="2" y="4.7">25</text><text class="q" x="30.5" y="4.7">－</text><text class="e" x="60" y="4.7">13</text><text class="q" x="30.5" y="26.7">－</text></g>
<text class="lb" x="281" y="83">R2<tspan class="lq" dx="3">（25）</tspan></text>
<g class="s" transform="translate(280,124.3)"><use href="#bL" class="br"/><use href="#bR" x="60" class="br"/><text class="w e" x="-7" y="7">2</text><text class="w" x="69" y="7">0</text><text x="2" y="-17.8">25</text><text class="q" x="30" y="-17.8">－</text><text class="e" x="59" y="-17.8">20</text><text x="2" y="4.7">25</text><text class="q" x="30" y="4.7">－</text><text class="e" x="59" y="4.7">22</text><text class="q" x="30" y="26.7">－</text></g>
<text class="lb" x="110" y="352">R4<tspan class="lq" dx="3">（28）</tspan></text>
<g class="s" transform="translate(105.5,303.3)"><use href="#bL" class="br"/><use href="#bR" x="65" class="br"/><text class="w e" x="-4" y="7">2</text><text class="w" x="74" y="7">0</text><text x="2" y="-17.8">25</text><text class="q" x="32.5" y="-17.8">－</text><text class="e" x="64" y="-17.8">19</text><text x="2" y="4.7">25</text><text class="q" x="32.5" y="4.7">－</text><text class="e" x="64" y="4.7">12</text><text class="q" x="32.5" y="26.7">－</text></g>
</g>

<!-- Scores group 8 -->
<g id="scores8" transform="translate(1649,591)">
<text class="lb" x="110" y="-74">S3<tspan class="lq" dx="3">（30）</tspan></text>
<g class="s" transform="translate(106.5,-33.3)"><use href="#bL" class="br"/><use href="#bR" x="64" class="br"/><text class="w e" x="-5" y="7">2</text><text class="w" x="73" y="7">1</text><text x="2" y="-17.8">23</text><text class="q" x="32" y="-17.8">－</text><text class="e" x="63" y="-17.8">25</text><text x="2" y="4.7">25</text><text class="q" x="32" y="4.7">－</text><text class="e" x="63" y="4.7">19</text><text x="2" y="26.7">15</text><text class="q" x="32" y="26.7">－</text><text class="e b" x="63" y="28.5">8</text></g>
<text class="lb" x="-82" y="83">S1<tspan class="lq" dx="3">（31）</tspan></text>
<g class="s" transform="translate(-82.5,124.3)"><use href="#bL" class="br"/><use href="#bR" x="58" class="br"/><text class="w e" x="-7" y="7">2</text><text class="w" x="69" y="7">0</text><text x="2" y="-17.8">25</text><text class="q" x="29" y="-17.8">－</text><text class="e" x="57" y="-17.8">18</text><text x="2" y="4.7">25</text><text class="q" x="29" y="4.7">－</text><text class="e" x="57" y="4.7">10</text><text class="q" x="29" y="26.7">－</text></g>
<text class="lb" x="3" y="61">S5</text><text class="tn" x="22" y="59">(30,32)</text>
<use href="#ar" class="ar" transform="translate(44.5,75) rotate(45)"/>
<g class="s" transform="translate(20.5,124.3)"><use href="#bL" class="br"/><use href="#bR" x="64" class="br"/><text class="w e" x="-3" y="7">2</text><text class="w" x="72.5" y="7">0</text><text x="2" y="-17.8">25</text><text class="q" x="32" y="-17.8">－</text><text class="e" x="63" y="-17.8">22</text><text x="2" y="4.7">25</text><text class="q" x="32" y="4.7">－</text><text class="e" x="63" y="4.7">20</text><text class="q" x="32" y="26.7">－</text></g>
<text class="lb" x="217" y="61">S6</text><text class="tn" x="238" y="59">(29,31)</text>
<use href="#ar" class="ar" transform="translate(214.5,73.5) rotate(-45)"/>
<g class="s" transform="translate(171,124.3)"><use href="#bL" class="br"/><use href="#bR" x="61" class="br"/><text class="w e" x="-5" y="7">2</text><text class="w" x="71" y="7">1</text><text x="2" y="-17.8">24</text><text class="q" x="30.5" y="-17.8">－</text><text class="e" x="60" y="-17.8">25</text><text x="2" y="4.7">25</text><text class="q" x="30.5" y="4.7">－</text><text class="e" x="60" y="4.7">24</text><text x="2" y="26.7">15</text><text class="q" x="30.5" y="26.7">－</text><text class="e b" x="60" y="28.5">7</text></g>
<text class="lb" x="281" y="83">S2<tspan class="lq" dx="3">（29）</tspan></text>
<g class="s" transform="translate(280,124.3)"><use href="#bL" class="br"/><use href="#bR" x="60" class="br"/><text class="w e" x="-7" y="7">2</text><text class="w" x="69" y="7">1</text><text x="2" y="-17.8">25</text><text class="q" x="30" y="-17.8">－</text><text class="e" x="59" y="-17.8">14</text><text x="2" y="4.7">19</text><text class="q" x="30" y="4.7">－</text><text class="e" x="59" y="4.7">25</text><text x="2" y="26.7">15</text><text class="q" x="30" y="26.7">－</text><text class="e" x="59" y="26.7">13</text></g>
<text class="lb" x="110" y="352">S4<tspan class="lq" dx="3">（32）</tspan></text>
<g class="s" transform="translate(105.5,303.3)"><use href="#bL" class="br"/><use href="#bR" x="65" class="br"/><text class="w e" x="-4" y="7">2</text><text class="w" x="74" y="7">0</text><text x="2" y="-17.8">25</text><text class="q" x="32.5" y="-17.8">－</text><text class="e" x="64" y="-17.8">17</text><text x="2" y="4.7">25</text><text class="q" x="32.5" y="4.7">－</text><text class="e" x="64" y="4.7">18</text><text class="q" x="32.5" y="26.7">－</text></g>
</g>
</svg>
